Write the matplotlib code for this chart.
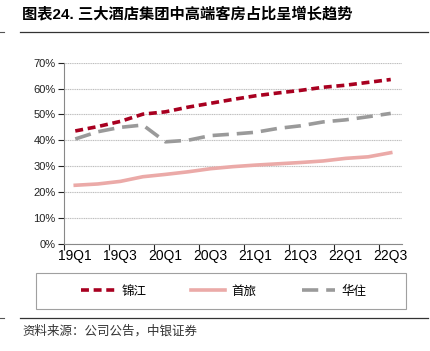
import matplotlib
matplotlib.use("Agg")
import matplotlib.pyplot as plt
from matplotlib.lines import Line2D
from matplotlib.patches import Rectangle

plt.rcParams['font.family'] = ['Liberation Sans', 'Noto Sans CJK SC', 'DejaVu Sans']

# dados
quarters = ["19Q1", "19Q2", "19Q3", "19Q4", "20Q1", "20Q2", "20Q3", "20Q4",
            "21Q1", "21Q2", "21Q3", "21Q4", "22Q1", "22Q2", "22Q3"]
jinjiang = [43.6, 45.3, 47.3, 50.1, 51.0, 52.8, 54.3, 55.8, 57.2, 58.3, 59.3, 60.5, 61.3, 62.4, 63.5]
shoulv = [22.6, 23.1, 24.1, 25.9, 26.8, 27.8, 29.0, 29.8, 30.4, 30.9, 31.4, 32.0, 33.0, 33.6, 35.2]
huazhu = [40.5, 43.3, 45.0, 45.9, 39.4, 40.0, 41.8, 42.4, 43.1, 44.6, 45.6, 47.1, 47.9, 49.1, 50.4]
yticks = [0, 10, 20, 30, 40, 50, 60, 70]

W, H = 431, 351
fig = plt.figure(figsize=(W / 100, H / 100), dpi=100)
ax = fig.add_axes([64 / W, 1 - 243.7 / H, 338 / W, 181 / H])

x = list(range(len(quarters)))
ax.plot(x, jinjiang, color="#A80020", lw=2.6, dashes=(2.2, 1.3), label="锦江")
ax.plot(x, shoulv, color="#EBAAA8", lw=2.6, label="首旅")
ax.plot(x, huazhu, color="#9A9A9A", lw=2.6, dashes=(4.5, 2.2), label="华住")

ax.set_xlim(-0.5, len(quarters) - 0.5)
ax.set_ylim(0, 70)
ax.set_yticks(yticks)
ax.set_yticklabels([f"{v}%" for v in yticks])
ax.yaxis.grid(True, color="#BDBDBD", lw=0.8, ls=(0, (1, 0.6)))
ax.set_axisbelow(True)

# ticks nas bordas das categorias, rótulos no centro
ax.set_xticks([i - 0.5 for i in range(0, len(quarters), 2)])
ax.set_xticklabels([])
ax.set_xticks(x[::2], minor=True)
ax.set_xticklabels(quarters[::2], minor=True)
ax.tick_params(axis="x", which="minor", length=0, pad=4)
ax.tick_params(axis="x", which="major", length=4, color="#888888")
ax.tick_params(axis="y", length=4, color="#888888", pad=2)
ax.tick_params(labelsize=8, colors="#222222")

for s in ["top", "right"]:
    ax.spines[s].set_visible(False)
ax.spines["left"].set_color("#888888")
ax.spines["bottom"].set_color("#888888")

# título
fig.text(22 / W, 1 - 14 / H, "图表24. 三大酒店集团中高端客房占比呈增长趋势",
         fontsize=11, fontweight="bold", va="center", ha="left",
         family=["Liberation Sans", "Noto Sans CJK SC"])
fig.add_artist(Line2D([20 / W, 428 / W], [1 - 32 / H, 1 - 32 / H], color="#333333", lw=0.9))
fig.add_artist(Line2D([0, 4 / W], [1 - 32 / H, 1 - 32 / H], color="#555555", lw=0.8))

# legenda
fig.add_artist(Rectangle((36 / W, 1 - 309 / H), 370 / W, 36 / H, fill=False,
                         edgecolor="#A0A0A0", lw=0.8))
fig.legend(loc="center", bbox_to_anchor=(224 / W, 1 - 291 / H), ncol=3, frameon=False,
           handlelength=2.7, handletextpad=0.5, columnspacing=3.6,
           prop={"family": ["Noto Sans CJK SC"], "size": 9})

fig.add_artist(Line2D([20 / W, 428 / W], [1 - 318 / H, 1 - 318 / H], color="#333333", lw=0.9))
fig.add_artist(Line2D([0, 4 / W], [1 - 318 / H, 1 - 318 / H], color="#555555", lw=0.8))
fig.text(22 / W, 1 - 331 / H, "资料来源：公司公告，中银证券", fontsize=9,
         va="center", ha="left", family=["Noto Sans CJK SC"], color="#333333")

fig.savefig("out.png", dpi=100)
